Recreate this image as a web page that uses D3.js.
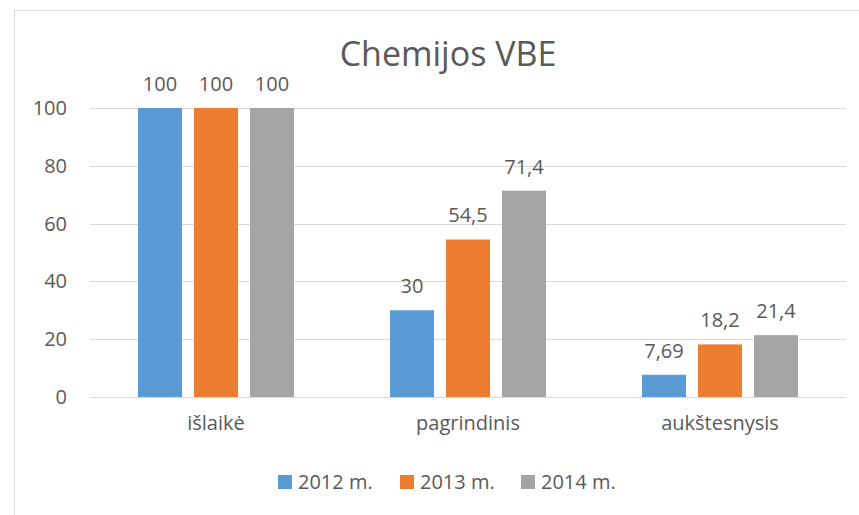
<!DOCTYPE html>
<html>
<head>
<meta charset="utf-8">
<script src="https://cdn.jsdelivr.net/npm/d3@7"></script>
<style>
    body { margin: 0; background: #fff; }
    text { font-family: "Open Sans", sans-serif; fill: #595959; }
</style>
</head>
<body>
<div class="chart"></div>
<script>
// chart data
var categories = ["išlaikė", "pagrindinis", "aukštesnysis"];
var seriesNames = ["2012 m.", "2013 m.", "2014 m."];
var values2012 = [100, 30, 7.69];
var values2013 = [100, 54.5, 18.2];
var values2014 = [100, 71.4, 21.4];
var labels2012 = ["100", "30", "7,69"];
var labels2013 = ["100", "54,5", "18,2"];
var labels2014 = ["100", "71,4", "21,4"];
var yTicks = [0, 20, 40, 60, 80, 100];
var colors = ["#5b9bd5", "#ed7d31", "#a5a5a5"];

function plotChart() {
    var width = 859,
        height = 515;

    var plot = {left: 90, right: 846, top: 108, bottom: 397};

    var series = [values2012, values2013, values2014];
    var seriesLabels = [labels2012, labels2013, labels2014];

    var svg = d3.select('.chart').append('svg')
        .attr('width', width)
        .attr('height', height);

    // outer chart border (runs off the right and bottom)
    svg.append('rect')
        .attr('x', 14.5)
        .attr('y', 10.5)
        .attr('width', 900)
        .attr('height', 600)
        .attr('fill', 'none')
        .attr('stroke', '#d9d9d9')
        .attr('stroke-width', 1);

    //scales
    var x = d3.scaleBand()
        .domain(categories)
        .range([plot.left, plot.right]);

    var xInner = d3.scaleBand()
        .domain(seriesNames)
        .range([48, x.bandwidth() - 48])
        .paddingInner(12 / 56);

    var y = d3.scaleLinear()
        .domain([0, 100])
        .range([plot.bottom, plot.top]);

    // gridlines
    svg.selectAll('.grid')
        .data(yTicks)
        .enter()
        .append('line')
        .attr('x1', plot.left)
        .attr('x2', plot.right)
        .attr('y1', function (d) { return Math.round(y(d)) + 0.5; })
        .attr('y2', function (d) { return Math.round(y(d)) + 0.5; })
        .attr('stroke', '#d9d9d9')
        .attr('stroke-width', 1);

    // y axis labels
    var yAxis = d3.axisLeft(y).tickValues(yTicks).tickSize(0).tickPadding(0);
    var yG = svg.append('g')
        .attr('transform', 'translate(67,0)')
        .call(yAxis);
    yG.select('.domain').remove();
    yG.selectAll('text')
        .style('font-family', '"Open Sans", sans-serif')
        .style('font-size', '20px')
        .style('fill', '#595959');

    // x axis labels
    var xAxis = d3.axisBottom(x).tickSize(0).tickPadding(0);
    var xG = svg.append('g')
        .attr('transform', 'translate(0,416)')
        .call(xAxis);
    xG.select('.domain').remove();
    xG.selectAll('text')
        .style('font-family', '"Open Sans", sans-serif')
        .style('font-size', '20px')
        .style('fill', '#595959');

    // bars
    series.forEach(function (vals, s) {
        svg.selectAll('.bar' + s)
            .data(vals)
            .enter()
            .append('rect')
            .attr('x', function (d, i) { return x(categories[i]) + xInner(seriesNames[s]); })
            .attr('y', function (d) { return y(d); })
            .attr('width', xInner.bandwidth())
            .attr('height', function (d) { return y(0) - y(d); })
            .attr('fill', colors[s]);

        svg.selectAll('.lbl' + s)
            .data(vals)
            .enter()
            .append('text')
            .attr('x', function (d, i) { return x(categories[i]) + xInner(seriesNames[s]) + xInner.bandwidth() / 2; })
            .attr('y', function (d) { return y(d) - 17; })
            .attr('text-anchor', 'middle')
            .style('font-size', '20px')
            .text(function (d, i) { return seriesLabels[s][i]; });
    });

    // title
    svg.append('text')
        .attr('x', 448)
        .attr('y', 66)
        .attr('text-anchor', 'middle')
        .style('font-size', '34px')
        .text('Chemijos VBE');

    // legend
    var legendX = [278, 400, 521];
    var legend = svg.selectAll('.legend')
        .data(seriesNames)
        .enter()
        .append('g')
        .attr('transform', function (d, i) { return 'translate(' + legendX[i] + ',475)'; });
    legend.append('rect')
        .attr('width', 14)
        .attr('height', 14)
        .attr('fill', function (d, i) { return colors[i]; });
    legend.append('text')
        .attr('x', 20)
        .attr('y', 14)
        .style('font-size', '20px')
        .text(function (d) { return d; });
}

plotChart();
</script>
</body>
</html>
